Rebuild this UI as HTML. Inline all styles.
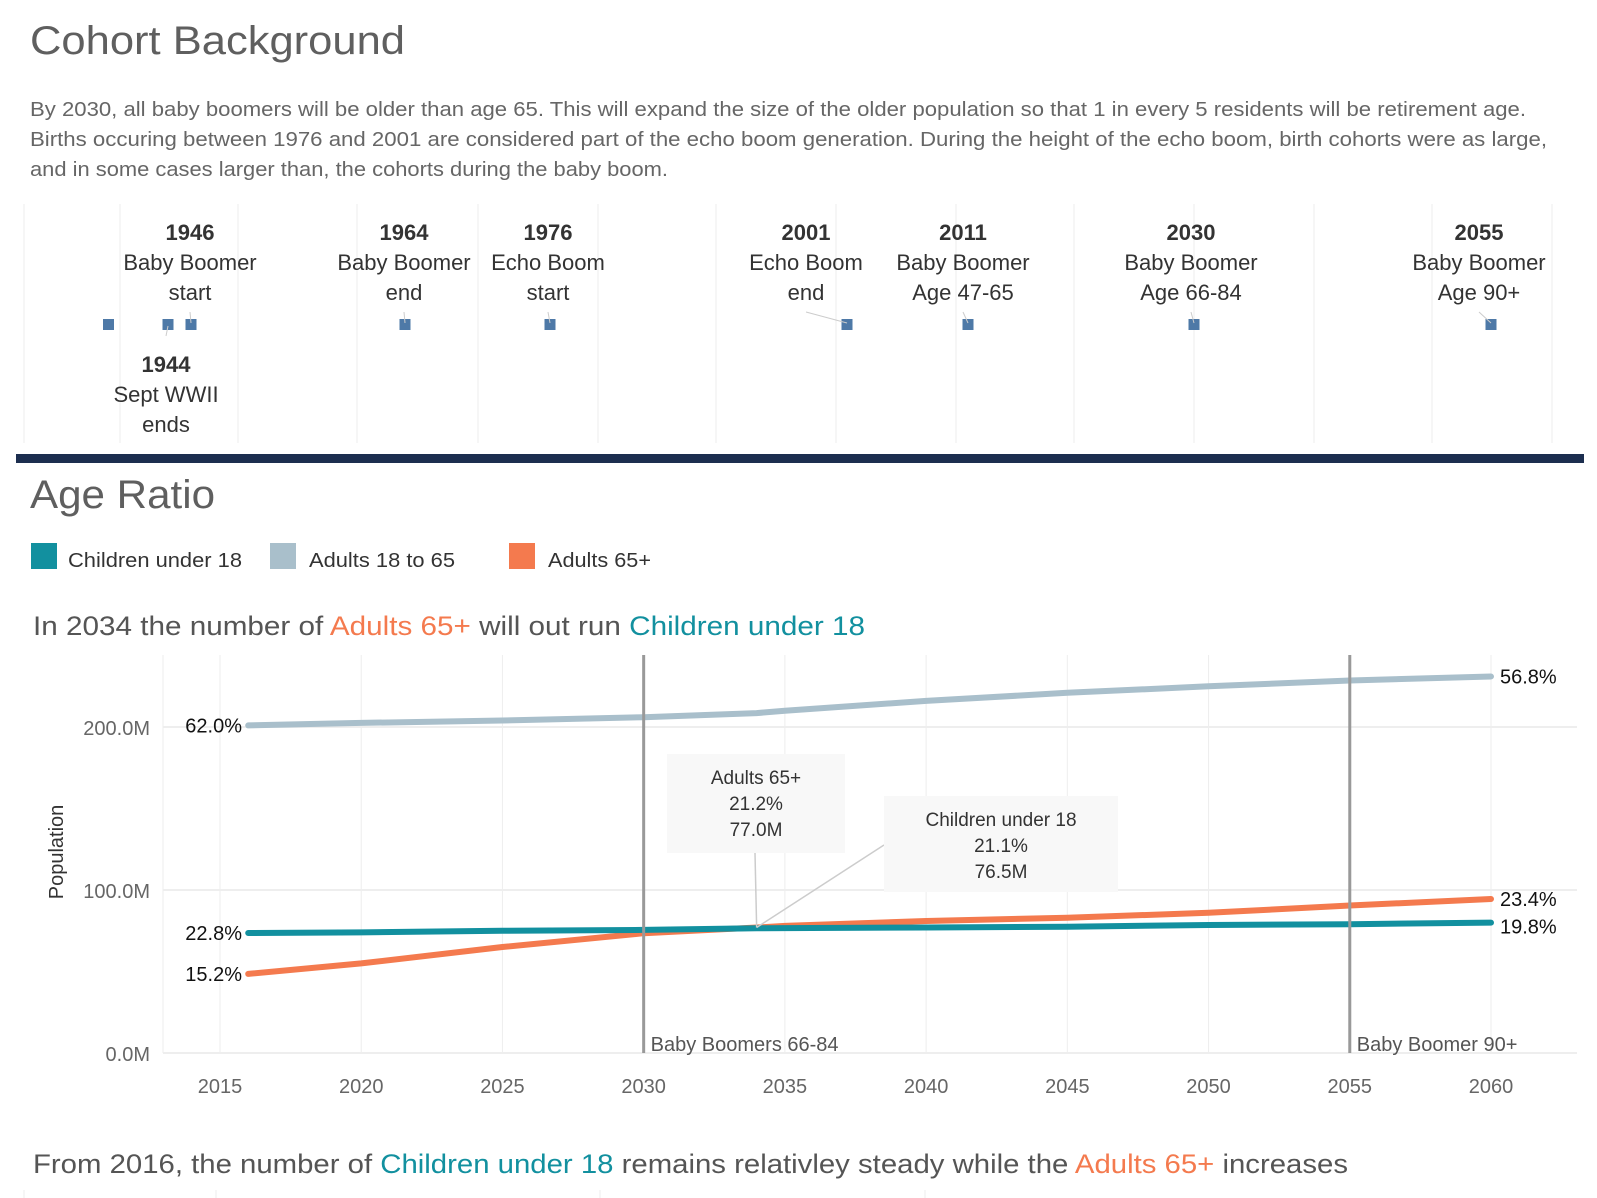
<!DOCTYPE html>
<html><head><meta charset="utf-8"><style>
html,body{margin:0;padding:0;background:#fff;}
svg{display:block;font-family:"Liberation Sans",sans-serif;}
</style></head><body>
<svg id="root" width="1597" height="1198" viewBox="0 0 1597 1198" xmlns="http://www.w3.org/2000/svg">
<text x="30" y="54" font-size="40" fill="#5f5f5f" textLength="375" lengthAdjust="spacingAndGlyphs">Cohort Background</text>
<g font-size="20" fill="#666">
<text x="30" y="116" textLength="1496" lengthAdjust="spacingAndGlyphs">By 2030, all baby boomers will be older than age 65.  This will expand the size of the older population so that 1 in every 5 residents will be retirement age.</text>
<text x="30" y="146" textLength="1517" lengthAdjust="spacingAndGlyphs">Births occuring between 1976 and 2001 are considered part of the echo boom generation.  During the height of the echo boom, birth cohorts were as large,</text>
<text x="30" y="176" textLength="638" lengthAdjust="spacingAndGlyphs">and in some cases larger than, the cohorts during the baby boom.</text>
</g>
<g id="timeline"></g>
<rect x="16" y="454" width="1568" height="9" fill="#1c2e4f"/>
<text x="30" y="508" font-size="40" fill="#5f5f5f" textLength="185" lengthAdjust="spacingAndGlyphs">Age Ratio</text>
<g font-size="20" fill="#333">
<rect x="31" y="543" width="26" height="26" fill="#12909f"/>
<text x="68" y="567" textLength="174" lengthAdjust="spacingAndGlyphs">Children under 18</text>
<rect x="270" y="543" width="26" height="26" fill="#a9bfcb"/>
<text x="309" y="567" textLength="146" lengthAdjust="spacingAndGlyphs">Adults 18 to 65</text>
<rect x="509" y="543" width="26" height="26" fill="#f47a4e"/>
<text x="548" y="567" textLength="103" lengthAdjust="spacingAndGlyphs">Adults 65+</text>
</g>
<text x="33" y="635" font-size="27" fill="#555" textLength="832" lengthAdjust="spacingAndGlyphs">In 2034 the number of <tspan fill="#f47a4e">Adults 65+</tspan> will out run <tspan fill="#12909f">Children under 18</tspan></text>
<g id="chart"></g>
<text x="33" y="1173" font-size="27" fill="#555" textLength="1315" lengthAdjust="spacingAndGlyphs">From 2016, the number of <tspan fill="#12909f">Children under 18</tspan> remains relativley steady while the <tspan fill="#f47a4e">Adults 65+</tspan> increases</text>
<g stroke="#eee" stroke-width="1">
<line x1="24" y1="1190" x2="24" y2="1198"/><line x1="216" y1="1190" x2="216" y2="1198"/><line x1="600" y1="1190" x2="600" y2="1198"/><line x1="925" y1="1190" x2="925" y2="1198"/>
</g>
</svg>
<script>
const NS='http://www.w3.org/2000/svg';
function mk(tag,attrs,parent){const e=document.createElementNS(NS,tag);for(const k in attrs)e.setAttribute(k,attrs[k]);parent.appendChild(e);return e;}

// ---------- Timeline data ----------
const tlYears=[1944,1946,1964,1976,2001,2011,2030,2055];
const tlLabel1=['Sept WWII','Baby Boomer','Baby Boomer','Echo Boom','Echo Boom','Baby Boomer','Baby Boomer','Baby Boomer'];
const tlLabel2=['ends','start','end','start','end','Age 47-65','Age 66-84','Age 90+'];
const tlMarkerX=[168,191,405,550,847,968,1194,1491];
const tlTextX=[166,190,404,548,806,963,1191,1479];
const tl=document.getElementById('timeline');
[24,120,238,357,478,598,716,836,956,1074,1194,1314,1432,1552].forEach(x=>{
  const l=mk('line',{x1:x,y1:204,x2:x,y2:443,stroke:'#ececec','stroke-width':1},tl);
  
  
});
const extra=mk('rect',{x:103,y:319,width:11,height:11,fill:'#4e79a7'},tl);


tlYears.forEach((yr,i)=>{
  const m=mk('rect',{x:tlMarkerX[i]-5.5,y:319,width:11,height:11,fill:'#4e79a7'},tl);
  
  
  const below=(yr===1944);
  const y0=below?364:232;
  const g=mk('g',{'text-anchor':'middle',fill:'#333','font-size':22},tl);
  
  
  const t1=mk('text',{x:tlTextX[i],y:y0+8,'font-weight':'bold'},g);t1.textContent=yr;
  const t2=mk('text',{x:tlTextX[i],y:y0+38},g);t2.textContent=tlLabel1[i];
  const t3=mk('text',{x:tlTextX[i],y:y0+68},g);t3.textContent=tlLabel2[i];
  mk('line',{x1:tlTextX[i],y1:below?336:312,x2:tlMarkerX[i],y2:below?326:323,stroke:'#ccc','stroke-width':1},tl);
});

// ---------- Chart data ----------
const years=[2016,2020,2025,2030,2034,2035,2040,2045,2050,2055,2060];
const adults=[201,202.5,204,206,208.5,210,216,221,225,228.5,231];
const seniors=[48.5,55,65,73.5,77,78,81,83,86,90.5,94.5];
const children=[73.6,74,75,75.5,76.5,76.6,77,77.5,78.5,79,80];
const yTicks=[0,100,200];
const yTickLabels=['0.0M','100.0M','200.0M'];
const xTicks=[2015,2020,2025,2030,2035,2040,2045,2050,2055,2060];
const startPct=['62.0%','15.2%','22.8%'];
const endPct=['56.8%','23.4%','19.8%'];

const X=yr=>220+(yr-2015)*(1491-220)/45;
const Y=v=>1053-v*1.63;
const ch=document.getElementById('chart');
xTicks.forEach(t=>{
  const l=mk('line',{x1:X(t),y1:655,x2:X(t),y2:1053,stroke:'#eee','stroke-width':1},ch);
  
  
  const tx=mk('text',{x:X(t),y:1093,'text-anchor':'middle','font-size':20,fill:'#666'},ch);
  
  
  tx.textContent=t;
});
mk('line',{x1:163,y1:655,x2:163,y2:1053,stroke:'#eee'},ch);
yTicks.forEach((t,i)=>{
  const l=mk('line',{x1:163,y1:Y(t),x2:1577,y2:Y(t),stroke:'#eee','stroke-width':2},ch);
  
  
  const tx=mk('text',{x:150,y:Y(t)+8,'text-anchor':'end','font-size':20,fill:'#666'},ch);
  
  
  tx.textContent=yTickLabels[i];
});
const yt=mk('text',{x:0,y:0,transform:'translate(63,852) rotate(-90)','text-anchor':'middle','font-size':20,fill:'#333'},ch);


yt.textContent='Population';

function path(vals){return vals.map((v,i)=>(i?'L':'M')+X(years[i]).toFixed(1)+','+Y(v).toFixed(1)).join(' ');}
const series=[[adults,'#a9bfcb','adults-18-65-line'],[seniors,'#f47a4e','adults-65-plus-line'],[children,'#12909f','children-under-18-line']];
series.forEach((s,i)=>{
  const p=mk('path',{d:path(s[0]),fill:'none',stroke:s[1],'stroke-width':6,'stroke-linecap':'round','stroke-linejoin':'round'},ch);
  
  
  const a=mk('text',{x:242,y:Y(s[0][0])+7,'text-anchor':'end','font-size':20,fill:'#111'},ch);
  
  
  a.textContent=startPct[i];
  const last=s[0].length-1;
  const b=mk('text',{x:1500,y:Y(s[0][last])+(i===2?11:7),'font-size':20,fill:'#111'},ch);
  
  
  b.textContent=endPct[i];
});
// reference lines
[[2030,'Baby Boomers 66-84'],[2055,'Baby Boomer 90+']].forEach(r=>{
  const l=mk('line',{x1:X(r[0]),y1:655,x2:X(r[0]),y2:1053,stroke:'#999','stroke-width':3},ch);
  
  
  const t=mk('text',{x:X(r[0])+7,y:1051,'font-size':20,fill:'#555'},ch);
  
  
  t.textContent=r[1];
});
// annotations
const crossX=X(2034),crossY=Y(77);
mk('line',{x1:755,y1:853,x2:crossX,y2:crossY,stroke:'#ccc','stroke-width':1.5},ch);
mk('line',{x1:884,y1:845,x2:crossX,y2:crossY,stroke:'#ccc','stroke-width':1.5},ch);
function box(x,y,w,h,lines,name){
  const g=mk('g',{},ch);
  
  
  mk('rect',{x:x,y:y,width:w,height:h,fill:'#f8f8f8'},g);
  lines.forEach((s,i)=>{const t=mk('text',{x:x+w/2,y:y+30+i*26,'text-anchor':'middle','font-size':19,fill:'#333'},g);t.textContent=s;});
}
box(667,754,178,99,['Adults 65+','21.2%','77.0M'],'annotation-adults-65');
box(884,796,234,96,['Children under 18','21.1%','76.5M'],'annotation-children');
</script>
</body></html>
